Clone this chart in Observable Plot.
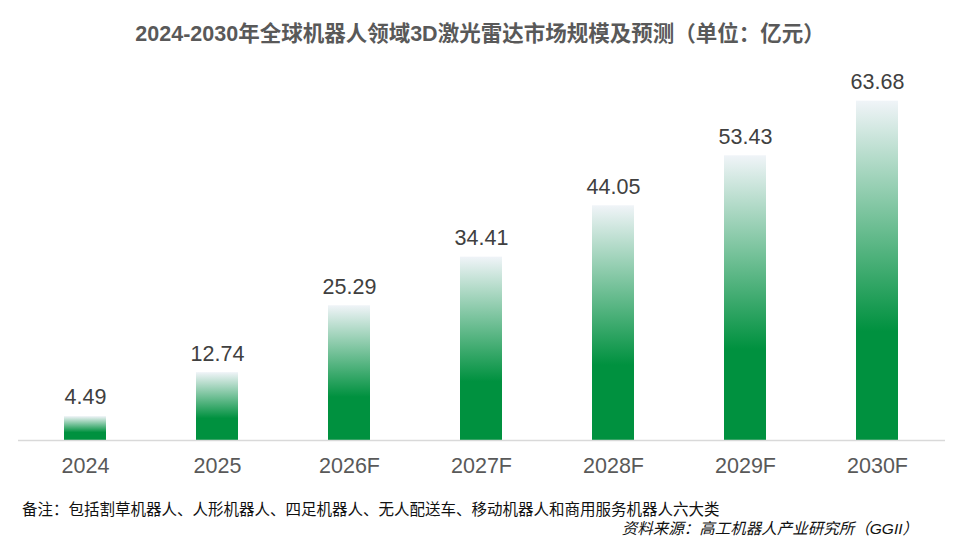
<!DOCTYPE html>
<html>
<head>
<meta charset="utf-8">
<script src="https://cdn.jsdelivr.net/npm/d3@7"></script>
<script src="https://cdn.jsdelivr.net/npm/@observablehq/plot@0.6"></script>
<style>
  body { margin: 0; background: #fff; font-family: "Liberation Sans", Arial, "Noto Sans CJK SC", sans-serif; }
  #wrap { width: 960px; height: 547px; position: relative; overflow: hidden; }
  #title { height: 66px; line-height: 68px; text-align: center; font-size: 21.5px; font-weight: bold; color: #595959; }
  #note { position: absolute; left: 22px; top: 497px; font-size: 15.5px; color: #111; }
  #src { position: absolute; right: 42px; top: 516px; font-size: 15.5px; color: #111; font-style: italic; }
</style>
</head>
<body>
<div id="wrap">
  <div id="title">2024-2030年全球机器人领域3D激光雷达市场规模及预测（单位：亿元）</div>
  <div id="chart"></div>
  <div id="note">备注：包括割草机器人、人形机器人、四足机器人、无人配送车、移动机器人和商用服务机器人六大类</div>
  <div id="src">资料来源：高工机器人产业研究所（GGII）</div>
</div>
<script>
const years = ["2024", "2025", "2026F", "2027F", "2028F", "2029F", "2030F"];
const values = [4.49, 12.74, 25.29, 34.41, 44.05, 53.43, 63.68];
const data = years.map((y, i) => ({year: y, value: values[i]}));

function gradientDefs() {
  const ns = "http://www.w3.org/2000/svg";
  const defs = document.createElementNS(ns, "defs");
  const g = document.createElementNS(ns, "linearGradient");
  g.setAttribute("id", "barGrad");
  g.setAttribute("x1", "0"); g.setAttribute("y1", "0");
  g.setAttribute("x2", "0"); g.setAttribute("y2", "1");
  [["0%", "#f0f4f8"], ["68%", "#00913f"], ["100%", "#00913f"]].forEach(([o, c]) => {
    const s = document.createElementNS(ns, "stop");
    s.setAttribute("offset", o);
    s.setAttribute("stop-color", c);
    g.appendChild(s);
  });
  defs.appendChild(g);
  return defs;
}

const chart = Plot.plot({
  width: 960,
  height: 424,
  marginTop: 1,
  marginBottom: 50,
  marginLeft: 18,
  marginRight: 15,
  style: { fontFamily: "'Liberation Sans', Arial, 'Noto Sans CJK SC', sans-serif", background: "#fff" },
  x: { domain: years, paddingInner: 0.68, paddingOuter: 0.34, label: null },
  y: { domain: [0, 70], axis: null },
  marks: [
    gradientDefs,
    Plot.barY(data, { x: "year", y: "value", fill: "url(#barGrad)" }),
    Plot.ruleY([0], { stroke: "#d9d9d9", strokeWidth: 1.5 }),
    Plot.text(data, { x: "year", y: "value", text: d => d.value.toFixed(2), dy: -19, fontSize: 21.5, fill: "#404040" }),
    Plot.axisX({ tickSize: 0, tickPadding: 17, fontSize: 21.5, color: "#595959", label: null })
  ]
});
document.getElementById("chart").appendChild(chart);
</script>
</body>
</html>
